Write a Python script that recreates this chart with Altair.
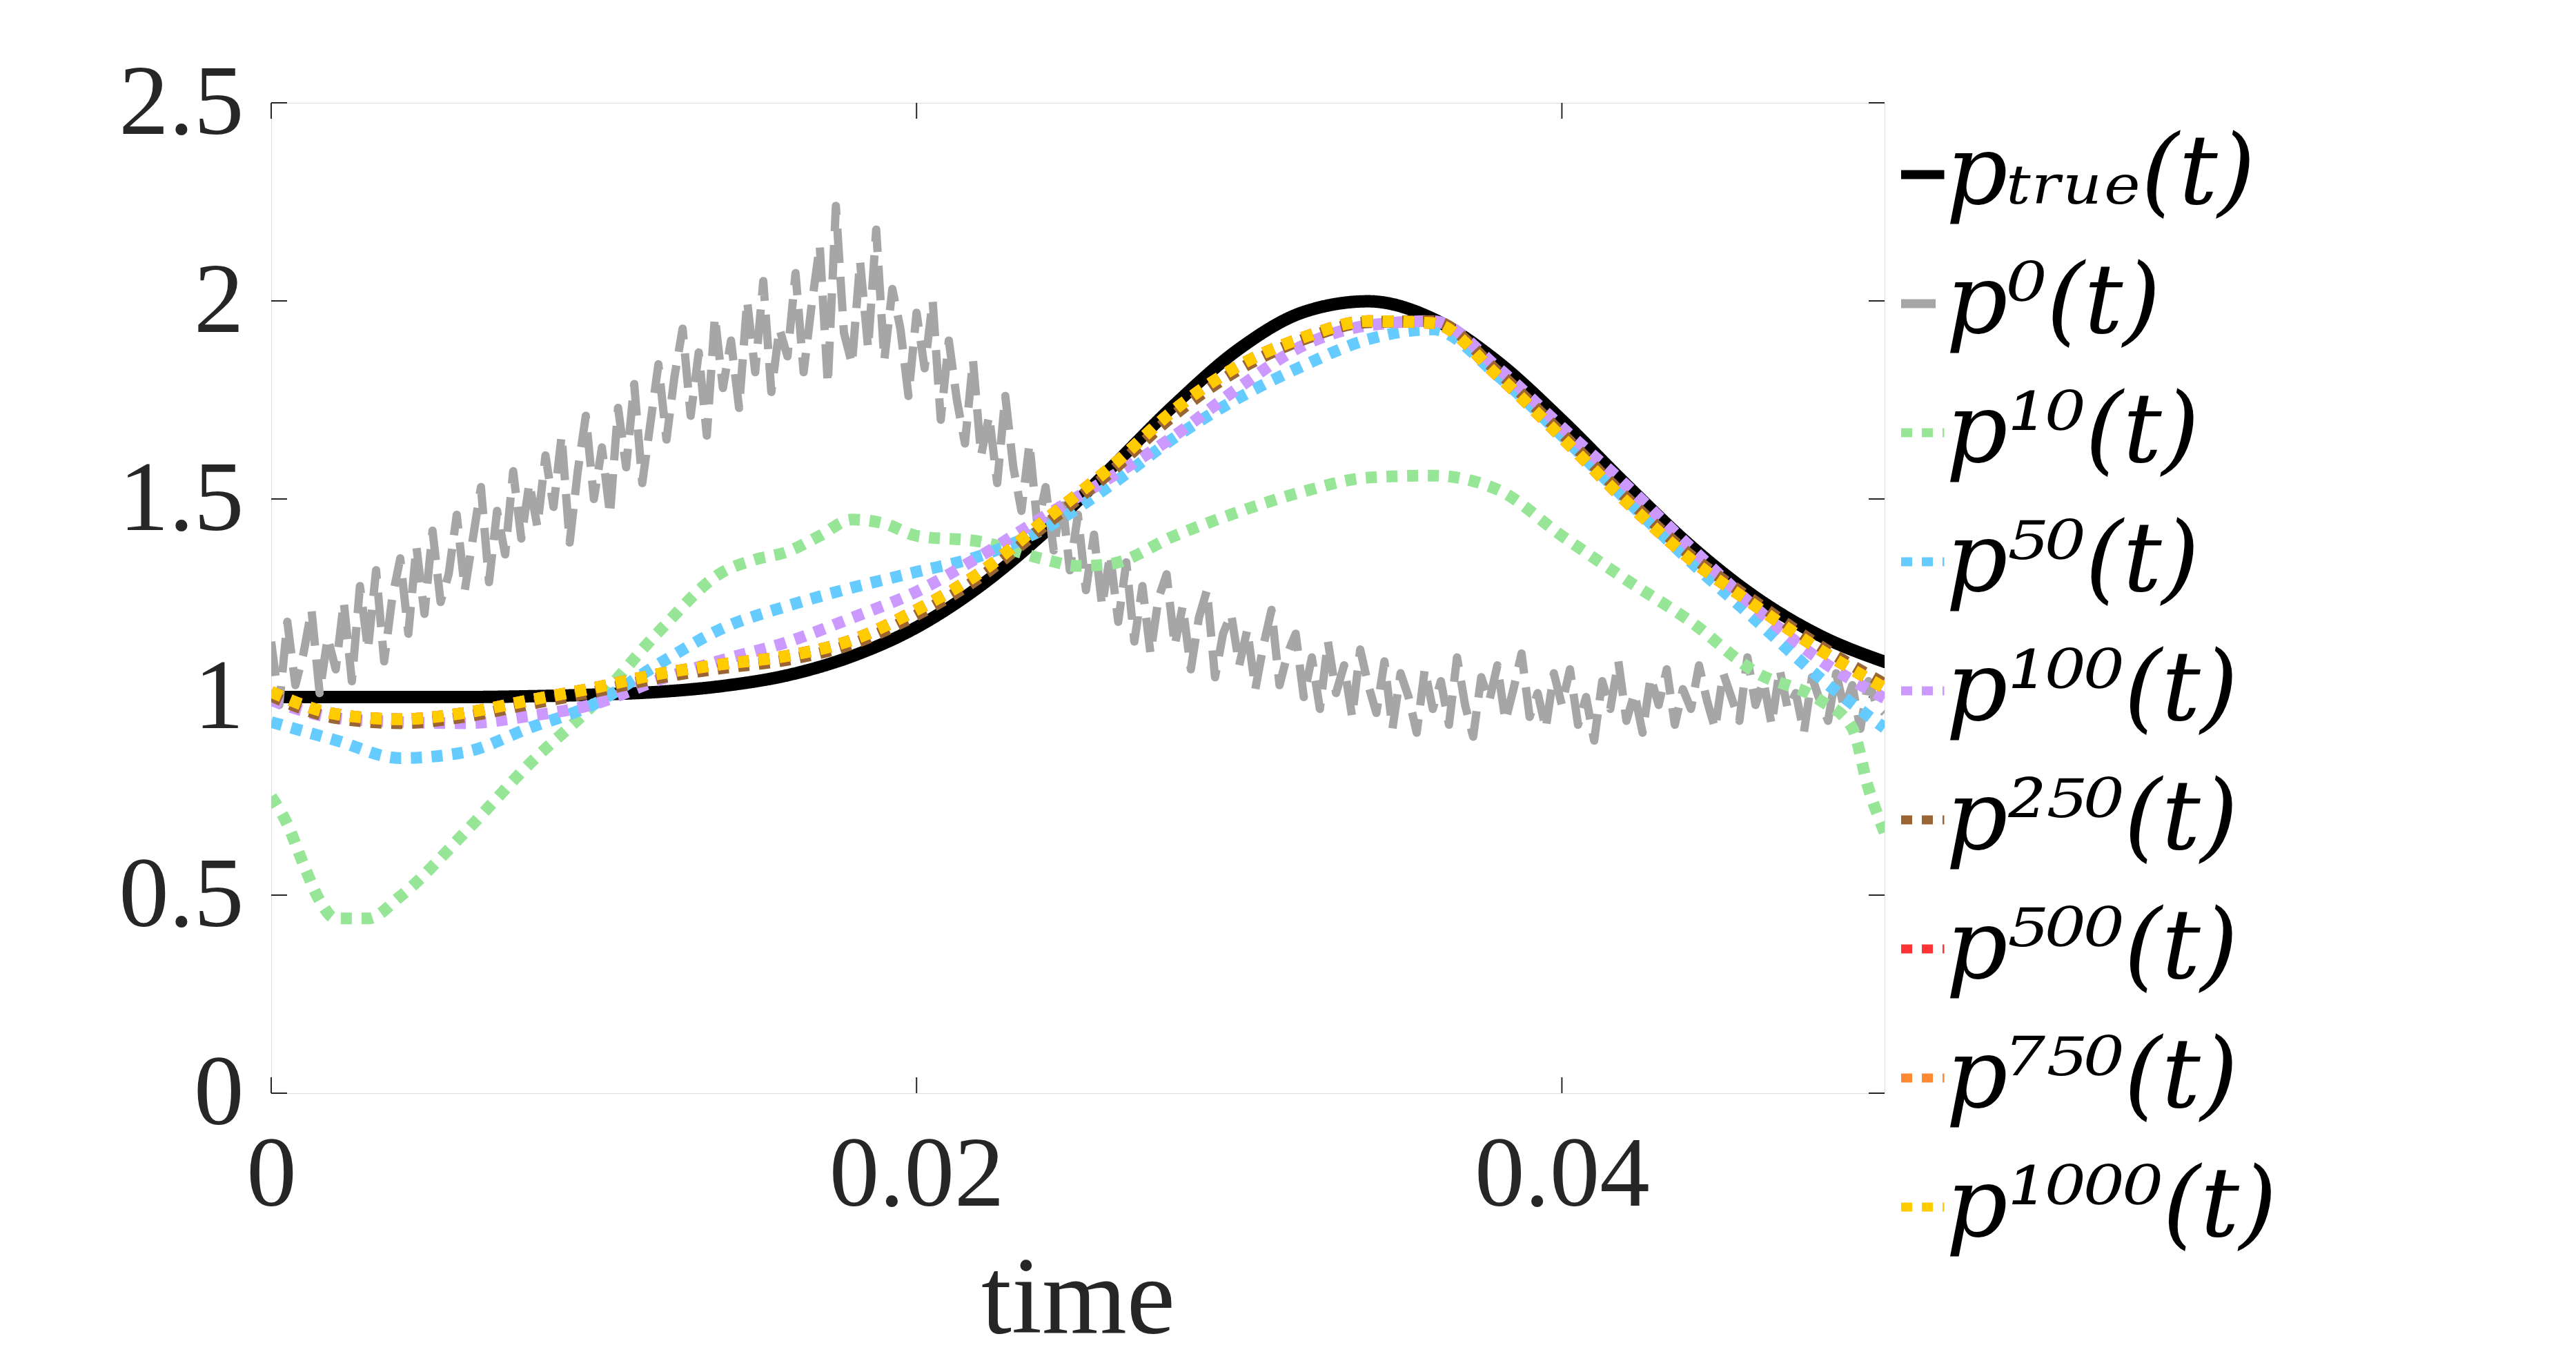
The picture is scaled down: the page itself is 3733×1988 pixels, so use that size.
import altair as alt
import pandas as pd

# ---------------- data ----------------
T = [0.000, 0.002, 0.004, 0.006, 0.008, 0.010, 0.012, 0.014, 0.016, 0.018,
     0.020, 0.022, 0.024, 0.026, 0.028, 0.030, 0.032, 0.034, 0.036, 0.038,
     0.040, 0.042, 0.044, 0.046, 0.048, 0.050]

P_TRUE = [1.000, 1.000, 1.000, 1.000, 1.002, 1.006, 1.013, 1.028, 1.055, 1.103,
          1.176, 1.282, 1.418, 1.576, 1.738, 1.879, 1.972, 1.999, 1.955, 1.847,
          1.699, 1.536, 1.381, 1.252, 1.155, 1.089]

P50 = [0.937, 0.891, 0.846, 0.861, 0.922, 0.982, 1.083, 1.174, 1.230, 1.276,
       1.316, 1.357, 1.427, 1.534, 1.655, 1.756, 1.837, 1.903, 1.928, 1.812,
       1.660, 1.498, 1.341, 1.195, 1.048, 0.922]

P100 = [0.992, 0.947, 0.937, 0.934, 0.952, 0.982, 1.043, 1.094, 1.139, 1.200,
        1.266, 1.357, 1.458, 1.554, 1.660, 1.782, 1.888, 1.938, 1.949, 1.832,
        1.681, 1.534, 1.377, 1.225, 1.094, 0.997]

P250 = [1.003, 0.947, 0.934, 0.950, 0.982, 1.013, 1.048, 1.073, 1.094, 1.134,
        1.207, 1.304, 1.435, 1.567, 1.713, 1.827, 1.903, 1.946, 1.949, 1.822,
        1.665, 1.503, 1.357, 1.240, 1.129, 1.033]

P500 = [1.013, 0.957, 0.944, 0.960, 0.992, 1.023, 1.058, 1.083, 1.104, 1.144,
        1.220, 1.316, 1.448, 1.579, 1.726, 1.837, 1.908, 1.949, 1.944, 1.812,
        1.655, 1.493, 1.347, 1.230, 1.119, 1.023]

P750 = [1.013, 0.957, 0.944, 0.960, 0.992, 1.023, 1.058, 1.083, 1.104, 1.144,
        1.220, 1.316, 1.448, 1.579, 1.726, 1.837, 1.908, 1.949, 1.944, 1.812,
        1.655, 1.493, 1.347, 1.230, 1.119, 1.023]

P1000 = [1.013, 0.957, 0.944, 0.960, 0.992, 1.023, 1.058, 1.083, 1.104, 1.144,
         1.220, 1.316, 1.448, 1.579, 1.726, 1.837, 1.908, 1.949, 1.944, 1.812,
         1.655, 1.493, 1.347, 1.230, 1.119, 1.023]

T10 = [0.0000, 0.0005, 0.0010, 0.0015, 0.0020, 0.0030, 0.0040, 0.0060, 0.0080, 0.0100,
       0.0120, 0.0140, 0.0150, 0.0160, 0.0170, 0.0180, 0.0190, 0.0200, 0.0220, 0.0240,
       0.0250, 0.0260, 0.0280, 0.0300, 0.0320, 0.0340, 0.0360, 0.0380, 0.0400, 0.0420,
       0.0440, 0.0460, 0.0480, 0.0490, 0.0495, 0.0500]
P10 = [0.749, 0.679, 0.578, 0.487, 0.441, 0.441, 0.497, 0.658, 0.831, 0.982,
       1.164, 1.316, 1.347, 1.367, 1.407, 1.448, 1.438, 1.407, 1.392, 1.347,
       1.331, 1.336, 1.407, 1.468, 1.519, 1.554, 1.559, 1.524, 1.407, 1.296,
       1.190, 1.063, 0.992, 0.922, 0.770, 0.658]

# noisy initial guess p^0, one value every 0.00025
P0 = [1.14, 0.98, 1.19, 1.03, 1.11, 1.22, 1.01, 1.15, 1.07,
      1.24, 1.04, 1.28, 1.12, 1.32, 1.09, 1.25, 1.35,
      1.16, 1.38, 1.21, 1.42, 1.24, 1.31, 1.46, 1.27,
      1.40, 1.53, 1.29, 1.47, 1.36, 1.57, 1.40, 1.54,
      1.43, 1.61, 1.48, 1.66, 1.39, 1.57, 1.71, 1.50,
      1.63, 1.46, 1.73, 1.58, 1.79, 1.54, 1.69, 1.84,
      1.65, 1.81, 1.93, 1.71, 1.87, 1.66, 1.96, 1.78,
      1.90, 1.73, 2.00, 1.82, 2.05, 1.77, 1.93, 1.86,
      2.07, 1.82, 1.99, 2.14, 1.79, 2.24, 1.92, 1.84,
      2.10, 1.88, 2.18, 1.85, 2.03, 1.93, 1.76, 1.97,
      1.83, 2.00, 1.70, 1.90, 1.75, 1.64, 1.85, 1.61,
      1.71, 1.54, 1.76, 1.58, 1.47, 1.64, 1.43, 1.53,
      1.37, 1.51, 1.32, 1.46, 1.27, 1.41, 1.23, 1.36,
      1.19, 1.34, 1.14, 1.28, 1.11, 1.25, 1.31, 1.13,
      1.23, 1.07, 1.20, 1.27, 1.05, 1.16, 1.21, 1.08,
      1.17, 1.02, 1.13, 1.22, 1.03, 1.11, 1.16, 1.00,
      1.10, 0.97, 1.14, 1.01, 1.08, 0.95, 1.12, 1.03,
      0.96, 1.09, 0.92, 1.06, 1.00, 0.91, 1.07, 0.97,
      1.04, 0.93, 1.10, 0.98, 0.90, 1.05, 0.99, 1.08,
      0.94, 1.02, 1.11, 0.95, 1.01, 0.92, 1.06, 0.98,
      1.07, 0.93, 1.00, 0.89, 1.04, 0.97, 1.09, 0.94,
      1.01, 0.91, 1.05, 0.98, 1.07, 0.93, 1.02, 0.97,
      1.08, 0.99, 0.92, 1.06, 1.00, 0.94, 1.10, 0.98,
      1.04, 0.93, 1.07, 0.97, 1.01, 0.91, 1.05, 0.99,
      0.94, 1.06, 0.97, 1.03, 0.92, 1.04, 0.98, 0.96]
T0 = [round(i * 0.00025, 5) for i in range(len(P0))]

LABELS = ["pₜᵣᵤₑ(t)", "p⁰(t)", "p¹⁰(t)", "p⁵⁰(t)", "p¹⁰⁰(t)",
          "p²⁵⁰(t)", "p⁵⁰⁰(t)", "p⁷⁵⁰(t)", "p¹⁰⁰⁰(t)"]
COLORS = ["#000000", "#A6A6A6", "#97E597", "#66CCFF", "#CC99FF",
          "#996633", "#FF3333", "#FF8833", "#FFCC00"]
DASHES = [[1, 0], [50, 20], [16, 14], [16, 14], [16, 14],
          [16, 14], [16, 14], [16, 14], [16, 14]]
WIDTHS = [18, 12, 17, 17, 17, 17, 17, 17, 17]

XTICKS = [0, 0.02, 0.04]
YTICKS = [0, 0.5, 1, 1.5, 2, 2.5]

SERIES = [(T, P_TRUE), (T0, P0), (T10, P10), (T, P50), (T, P100),
          (T, P250), (T, P500), (T, P750), (T, P1000)]

# ---------------- chart ----------------
W, H = 2338, 1435
FONT = "Liberation Serif"
LFONT = "DejaVu Serif"
TICKLEN = 23

xscale = alt.Scale(domain=[0, 0.05], nice=False, zero=False)
yscale = alt.Scale(domain=[0, 2.5], nice=False, zero=True)

xaxis = alt.Axis(values=XTICKS, format="~g", title="time", grid=False, ticks=False,
                 domain=False, labelFont=FONT, labelFontSize=145, labelColor="#262626",
                 labelPadding=47, labelFlush=False, labelOverlap=False, labelLimit=2000,
                 titleFont=FONT, titleFontSize=158, titleFontWeight="normal",
                 titleColor="#262626", titlePadding=30)
yaxis = alt.Axis(values=YTICKS, format="~g", title=None, grid=False, ticks=False,
                 domain=False, labelFont=FONT, labelFontSize=145, labelColor="#262626",
                 labelPadding=40, labelFlush=False, labelOverlap=False, labelLimit=2000)

X = alt.X("t:Q", scale=xscale, axis=xaxis)
Y = alt.Y("v:Q", scale=yscale, axis=yaxis)

legend = alt.Legend(orient="none", legendX=2257, legendY=34, title=None,
                    symbolType="M0.2,0H2.7", symbolSize=2500, symbolStrokeWidth=13,
                    symbolOffset=30,
                    labelFont=LFONT, labelFontSize=140, labelFontStyle="italic",
                    labelColor="#000000", rowPadding=47, labelOffset=0, padding=0,
                    labelLimit=0)

color = alt.Color("series:N", scale=alt.Scale(domain=LABELS, range=COLORS), legend=legend)
dash = alt.StrokeDash("series:N", scale=alt.Scale(domain=LABELS, range=DASHES), legend=legend)

layers = []

# inner ticks (MATLAB style box with ticks on all sides)
ydf = pd.DataFrame({"v": YTICKS})
xdf = pd.DataFrame({"t": XTICKS})
layers.append(alt.Chart(ydf).mark_rule(color="#262626", strokeWidth=2).encode(
    y=Y, x=alt.value(0), x2=alt.value(TICKLEN)))
layers.append(alt.Chart(ydf).mark_rule(color="#262626", strokeWidth=2).encode(
    y=Y, x=alt.value(W - TICKLEN), x2=alt.value(W)))
layers.append(alt.Chart(xdf).mark_rule(color="#262626", strokeWidth=2).encode(
    x=X, y=alt.value(H), y2=alt.value(H - TICKLEN)))
layers.append(alt.Chart(xdf).mark_rule(color="#262626", strokeWidth=2).encode(
    x=X, y=alt.value(0), y2=alt.value(TICKLEN)))

for i, (tt, vv) in enumerate(SERIES):
    df = pd.DataFrame({"t": tt, "v": vv, "series": LABELS[i]})
    interp = "linear" if i == 1 else "monotone"
    cap = "round" if i == 0 else "butt"
    layers.append(
        alt.Chart(df).mark_line(strokeWidth=WIDTHS[i], interpolate=interp,
                                strokeCap=cap, strokeJoin="round", clip=True)
        .encode(x=X, y=Y, color=color, strokeDash=dash)
    )

chart = alt.layer(*layers).properties(
    width=W, height=H,
    padding={"left": 385, "top": 141, "right": 980, "bottom": 392},
    autosize=alt.AutoSizeParams(type="none"),
).configure_view(stroke="#262626", strokeWidth=2).configure(background="white")

chart.save("out.html", embed_options={"renderer": "svg", "actions": False})
